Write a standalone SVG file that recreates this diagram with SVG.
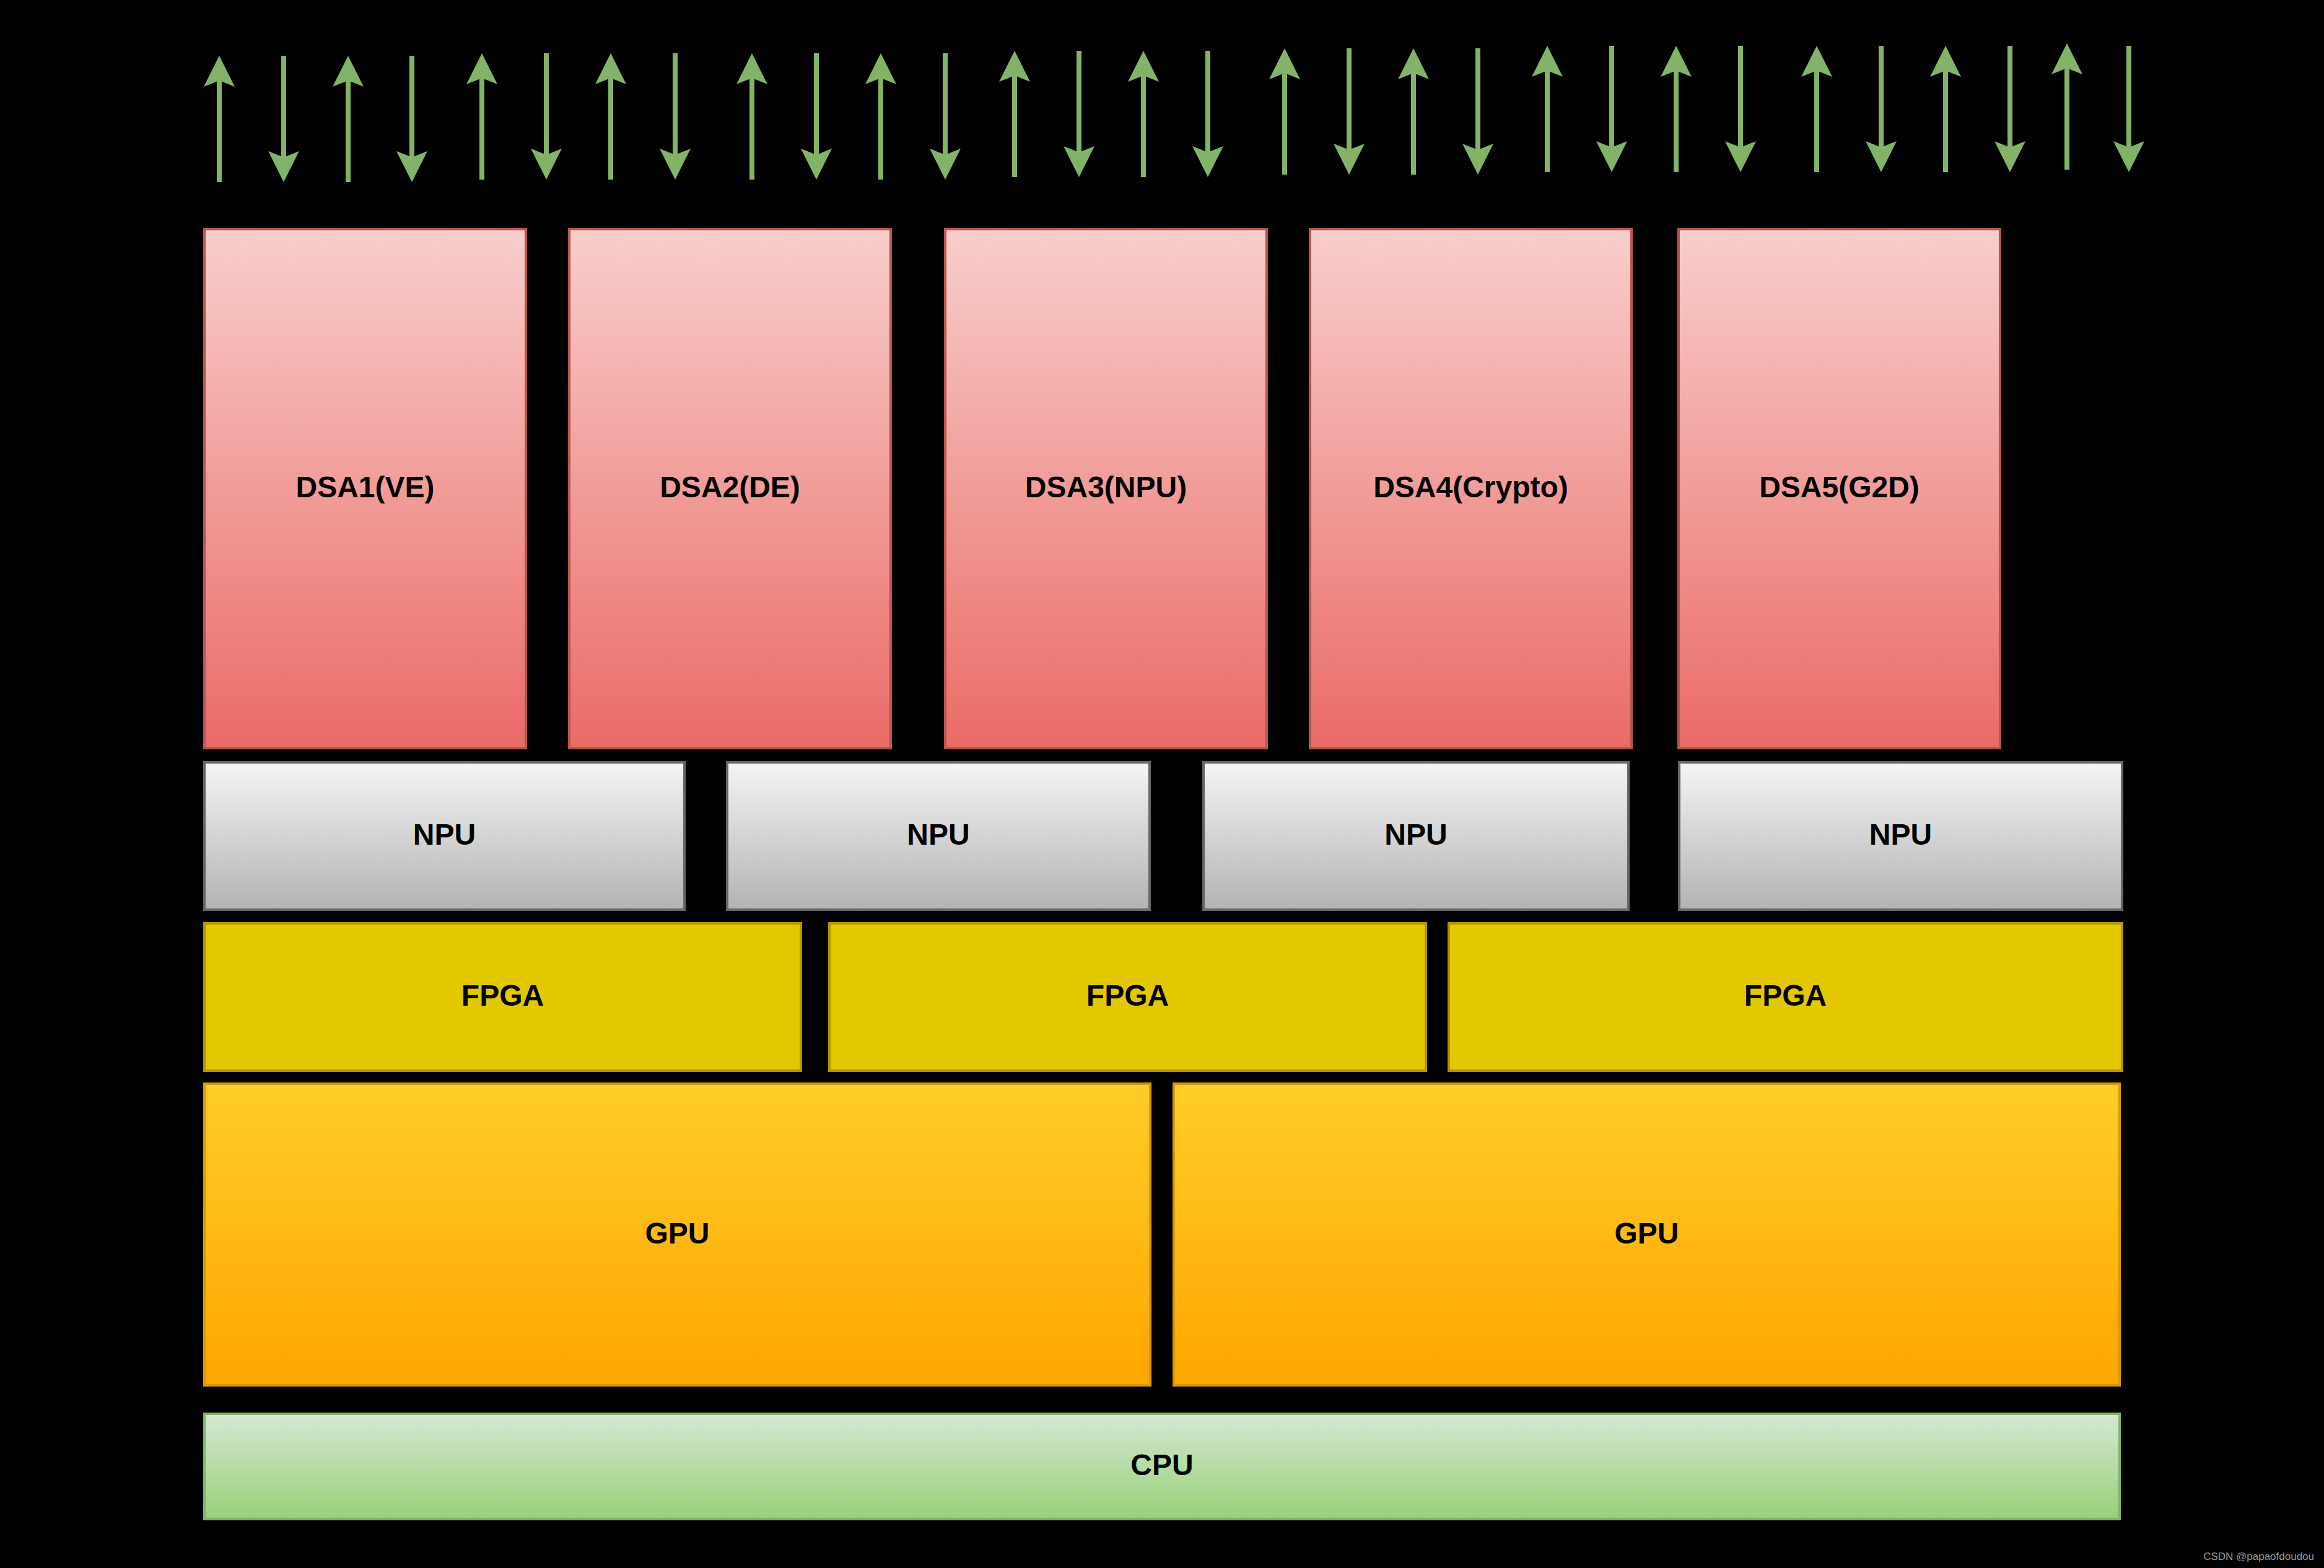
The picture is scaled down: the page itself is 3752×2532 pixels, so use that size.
<svg xmlns="http://www.w3.org/2000/svg" width="3752" height="2532" viewBox="0 0 3752 2532">
<style>
.lbl{font-family:"Liberation Sans",Arial,sans-serif;font-weight:bold;font-size:48px;fill:#000;text-anchor:middle}
.dsa{fill:url(#gDsa);stroke:#b85450;stroke-width:4}
.npu{fill:url(#gNpu);stroke:#666666;stroke-width:4}
.fpga{fill:#e3c800;stroke:#b09500;stroke-width:4}
.gpu{fill:url(#gGpu);stroke:#d79b00;stroke-width:4}
.cpu{fill:url(#gCpu);stroke:#82b366;stroke-width:4}
.arr{stroke:#82b366;stroke-width:8;fill:none;marker-end:url(#head)}
.wm{font-family:"Liberation Sans",Arial,sans-serif;font-size:17px;fill:#9a9a9a;text-anchor:end}
</style>
<defs>
<linearGradient id="gDsa" x1="0" y1="0" x2="0" y2="1"><stop offset="0" stop-color="#f8cecc"/><stop offset="1" stop-color="#ea6b66"/></linearGradient>
<linearGradient id="gNpu" x1="0" y1="0" x2="0" y2="1"><stop offset="0" stop-color="#f5f5f5"/><stop offset="1" stop-color="#b3b3b3"/></linearGradient>
<linearGradient id="gGpu" x1="0" y1="0" x2="0" y2="1"><stop offset="0" stop-color="#ffcd28"/><stop offset="1" stop-color="#ffa500"/></linearGradient>
<linearGradient id="gCpu" x1="0" y1="0" x2="0" y2="1"><stop offset="0" stop-color="#d5e8d4"/><stop offset="1" stop-color="#97d077"/></linearGradient>
<marker id="head" markerUnits="userSpaceOnUse" markerWidth="50" markerHeight="50" viewBox="0 0 50 50" refX="10" refY="25" orient="auto">
<path d="M50,25 L0,0 L10,25 L0,50 Z" fill="#82b366"/>
</marker>
</defs>
<rect x="0" y="0" width="3752" height="2532" fill="#000"/>

<g id="connectors">
<line class="arr" x1="354" y1="294" x2="354" y2="130"/>
<line class="arr" x1="458" y1="90" x2="458" y2="254"/>
<line class="arr" x1="562" y1="294" x2="562" y2="130"/>
<line class="arr" x1="665" y1="90" x2="665" y2="254"/>
<line class="arr" x1="778" y1="290" x2="778" y2="126"/>
<line class="arr" x1="882" y1="86" x2="882" y2="250"/>
<line class="arr" x1="986" y1="290" x2="986" y2="126"/>
<line class="arr" x1="1090" y1="86" x2="1090" y2="250"/>
<line class="arr" x1="1214" y1="290" x2="1214" y2="126"/>
<line class="arr" x1="1318" y1="86" x2="1318" y2="250"/>
<line class="arr" x1="1422" y1="290" x2="1422" y2="126"/>
<line class="arr" x1="1526" y1="86" x2="1526" y2="250"/>
<line class="arr" x1="1638" y1="286" x2="1638" y2="122"/>
<line class="arr" x1="1742" y1="82" x2="1742" y2="246"/>
<line class="arr" x1="1846" y1="286" x2="1846" y2="122"/>
<line class="arr" x1="1950" y1="82" x2="1950" y2="246"/>
<line class="arr" x1="2074" y1="282" x2="2074" y2="118"/>
<line class="arr" x1="2178" y1="78" x2="2178" y2="242"/>
<line class="arr" x1="2282" y1="282" x2="2282" y2="118"/>
<line class="arr" x1="2386" y1="78" x2="2386" y2="242"/>
<line class="arr" x1="2498" y1="278" x2="2498" y2="114"/>
<line class="arr" x1="2602" y1="74" x2="2602" y2="238"/>
<line class="arr" x1="2706" y1="278" x2="2706" y2="114"/>
<line class="arr" x1="2810" y1="74" x2="2810" y2="238"/>
<line class="arr" x1="2933" y1="278" x2="2933" y2="114"/>
<line class="arr" x1="3037" y1="74" x2="3037" y2="238"/>
<line class="arr" x1="3141" y1="278" x2="3141" y2="114"/>
<line class="arr" x1="3245" y1="74" x2="3245" y2="238"/>
<line class="arr" x1="3337" y1="274" x2="3337" y2="110"/>
<line class="arr" x1="3437" y1="74" x2="3437" y2="238"/>
</g>

<g id="dsa1"><rect class="dsa" x="330" y="370" width="519" height="838"/><text class="lbl" x="589.5" y="803">DSA1(VE)</text></g>
<g id="dsa2"><rect class="dsa" x="919" y="370" width="519" height="838"/><text class="lbl" x="1178.5" y="803">DSA2(DE)</text></g>
<g id="dsa3"><rect class="dsa" x="1526" y="370" width="519" height="838"/><text class="lbl" x="1785.5" y="803">DSA3(NPU)</text></g>
<g id="dsa4"><rect class="dsa" x="2115" y="370" width="519" height="838"/><text class="lbl" x="2374.5" y="803">DSA4(Crypto)</text></g>
<g id="dsa5"><rect class="dsa" x="2710" y="370" width="519" height="838"/><text class="lbl" x="2969.5" y="803">DSA5(G2D)</text></g>

<g id="npu1"><rect class="npu" x="330" y="1231" width="775" height="238"/><text class="lbl" x="717.5" y="1364">NPU</text></g>
<g id="npu2"><rect class="npu" x="1174" y="1231" width="682" height="238"/><text class="lbl" x="1515" y="1364">NPU</text></g>
<g id="npu3"><rect class="npu" x="1943" y="1231" width="686" height="238"/><text class="lbl" x="2286" y="1364">NPU</text></g>
<g id="npu4"><rect class="npu" x="2711" y="1231" width="715" height="238"/><text class="lbl" x="3068.5" y="1364">NPU</text></g>

<g id="fpga1"><rect class="fpga" x="330" y="1491" width="963" height="238"/><text class="lbl" x="811.5" y="1624">FPGA</text></g>
<g id="fpga2"><rect class="fpga" x="1339" y="1491" width="963" height="238"/><text class="lbl" x="1820.5" y="1624">FPGA</text></g>
<g id="fpga3"><rect class="fpga" x="2339" y="1491" width="1087" height="238"/><text class="lbl" x="2882.5" y="1624">FPGA</text></g>

<g id="gpu1"><rect class="gpu" x="330" y="1750" width="1527" height="487"/><text class="lbl" x="1093.5" y="2008">GPU</text></g>
<g id="gpu2"><rect class="gpu" x="1895" y="1750" width="1527" height="487"/><text class="lbl" x="2658.5" y="2008">GPU</text></g>

<g id="cpu"><rect class="cpu" x="330" y="2283" width="3092" height="170"/><text class="lbl" x="1876" y="2382">CPU</text></g>

<text class="wm" x="3736" y="2519">CSDN @papaofdoudou</text>
</svg>
